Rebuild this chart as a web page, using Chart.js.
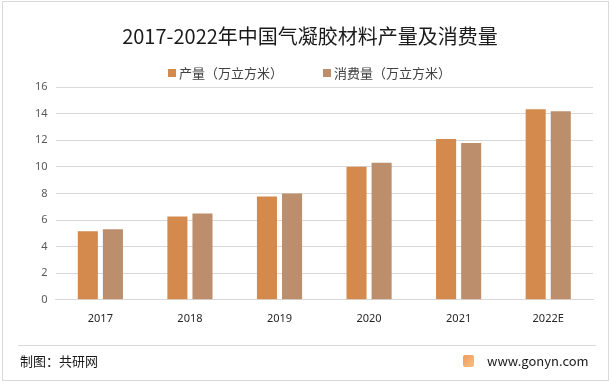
<!DOCTYPE html>
<html>
<head>
<meta charset="utf-8">
<script src="https://cdn.jsdelivr.net/npm/chart.js@4.4.0/dist/chart.umd.min.js"></script>
<style>
  body { margin: 0; background: #fff; font-family: "Noto Sans CJK SC", "Noto Sans", sans-serif; }
  #wrap { position: relative; width: 612px; height: 384px; overflow: hidden; }
  #frame { position: absolute; left: 2px; top: 1px; width: 607px; height: 380px; border: 1px solid #d9d9d9; box-sizing: border-box; }
  #chart { position: absolute; left: 0; top: 0; }
  .legend { position: absolute; top: 63px; font-size: 13px; color: #404040; line-height: 20px; white-space: nowrap; }
  .legend i { display: inline-block; width: 8px; height: 8px; margin-right: 3px; vertical-align: 1px; }
  #footline { position: absolute; left: 18px; top: 345px; width: 578px; height: 1px; background: #d9d9d9; }
  .foot { position: absolute; top: 351px; font-size: 13px; color: #1a1a1a; line-height: 20px; white-space: nowrap; }
  #logo { position: absolute; left: 463px; top: 355px; width: 11px; height: 12px; border-radius: 2px;
          background: linear-gradient(135deg, #f29a55, #f6c08a); }
</style>
</head>
<body>
<div id="wrap">
  <div id="frame"></div>
  <canvas id="chart" width="612" height="384"></canvas>
  <div class="legend" style="left:168px"><i style="background:#D48A4C"></i>产量（万立方米）</div>
  <div class="legend" style="left:323px"><i style="background:#BC8E6C"></i>消费量（万立方米）</div>
  <div id="footline"></div>
  <div class="foot" style="left:20px">制图：共研网</div>
  <div id="logo"></div>
  <div class="foot" style="left:487px">www.gonyn.com</div>
</div>
<script>
const years = ["2017", "2018", "2019", "2020", "2021", "2022E"];
const production = [5.15, 6.27, 7.76, 10.0, 12.09, 14.33];
const consumption = [5.3, 6.49, 8.0, 10.3, 11.79, 14.18];
const seriesNames = ["产量（万立方米）", "消费量（万立方米）"];
const titleText = "2017-2022年中国气凝胶材料产量及消费量";

const ctx = document.getElementById("chart").getContext("2d");

new Chart(ctx, {
  type: "bar",
  data: {
    labels: years,
    datasets: [
      { label: seriesNames[0], data: production, backgroundColor: "#D48A4C" },
      { label: seriesNames[1], data: consumption, backgroundColor: "#BC8E6C" },
    ],
  },
  options: {
    responsive: false,
    animation: false,
    devicePixelRatio: 1,
    layout: { padding: { left: 27, right: 19, top: 24, bottom: 55 } },
    datasets: {
      bar: { barPercentage: 0.8, categoryPercentage: 0.56 },
    },
    scales: {
      x: {
        grid: { display: false },
        border: { display: true, color: "#d9d9d9" },
        ticks: {
          color: "#262626",
          padding: 4,
          font: { family: "'Noto Sans', 'DejaVu Sans', sans-serif", size: 11 },
        },
      },
      y: {
        min: 0,
        max: 16,
        ticks: {
          stepSize: 2,
          color: "#595959",
          padding: 8,
          font: { family: "'Noto Sans', 'DejaVu Sans', sans-serif", size: 11 },
        },
        grid: { color: "#d9d9d9", drawTicks: false },
        border: { display: false },
      },
    },
    plugins: {
      legend: { display: false },
      tooltip: { enabled: false },
      title: {
        display: true,
        text: titleText,
        color: "#1a1a1a",
        font: { family: "'Noto Sans CJK SC', sans-serif", size: 20, weight: "normal" },
        padding: { top: 0, bottom: 39 },
      },
    },
  },
});
</script>
</body>
</html>
